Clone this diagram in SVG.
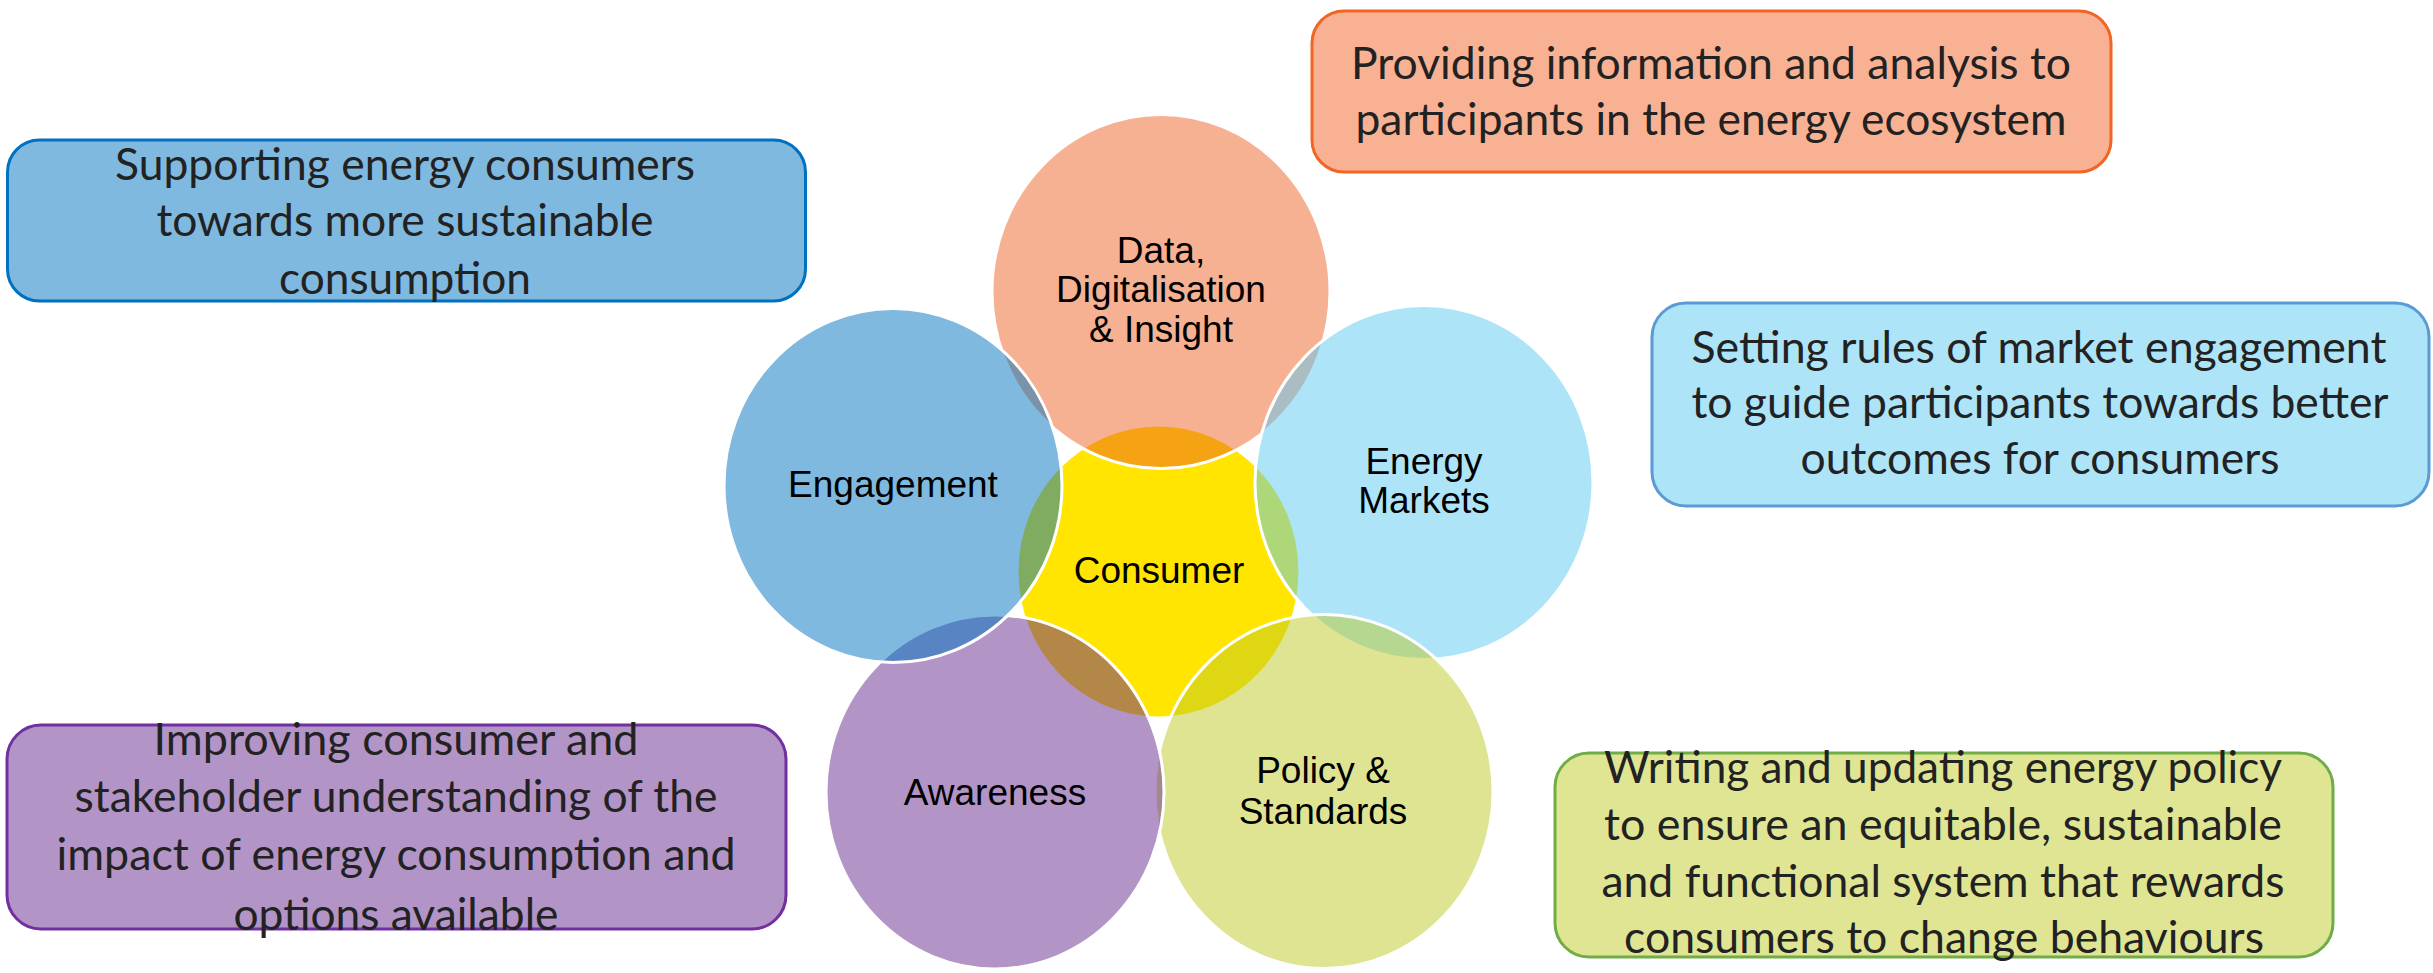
<svg xmlns="http://www.w3.org/2000/svg" width="2433" height="973" viewBox="0 0 2433 973">
<style>
.circ{stroke:#FFFFFF;stroke-width:3;fill-opacity:0.5}
.ctext{font-family:"Liberation Sans",Arial,sans-serif;font-size:37px;fill:#000000;text-anchor:middle}
.box{stroke-width:3}
.btext{font-family:Lato,"Open Sans",sans-serif;font-size:44px;fill:#222222;text-anchor:middle}
</style>
<rect x="0" y="0" width="2433" height="973" fill="#FFFFFF"/>
<g id="node-consumer">
<ellipse cx="1158.5" cy="571.5" rx="140" ry="145" fill="#FFE500"/>
</g>
<g id="node-data">
<ellipse class="circ" cx="1161" cy="291.5" rx="169" ry="177" fill="rgb(237,97,37)"/>
<text class="ctext" x="1161" y="263">Data,</text>
<text class="ctext" x="1161" y="302">Digitalisation</text>
<text class="ctext" x="1161" y="342">&amp; Insight</text>
</g>
<g id="node-energy-markets">
<ellipse class="circ" cx="1424" cy="482.5" rx="169" ry="177" fill="rgb(91,201,241)"/>
<text class="ctext" x="1424" y="474">Energy</text>
<text class="ctext" x="1424" y="513">Markets</text>
</g>
<g id="node-policy">
<ellipse class="circ" cx="1324" cy="791.5" rx="169" ry="177" fill="rgb(191,201,37)"/>
<text class="ctext" x="1323" y="783">Policy &amp;</text>
<text class="ctext" x="1323" y="824">Standards</text>
</g>
<g id="node-awareness">
<ellipse class="circ" cx="995" cy="792" rx="169" ry="177" fill="rgb(103,41,141)"/>
<text class="ctext" x="995" y="805">Awareness</text>
</g>
<g id="node-engagement">
<ellipse class="circ" cx="893" cy="485.5" rx="169" ry="177" fill="rgb(0,115,192)"/>
<text class="ctext" x="893" y="497">Engagement</text>
</g>
<g id="node-consumer-label">
<text class="ctext" x="1159" y="583">Consumer</text>
</g>
<g id="connectors"></g>
<g id="box-engagement">
<rect class="box" x="7.5" y="140" width="798" height="161" rx="32" fill="#7FB9DF" stroke="#0070C0"/>
<text class="btext" x="405" y="180" textLength="580" lengthAdjust="spacingAndGlyphs">Supporting energy consumers</text>
<text class="btext" x="405" y="236" textLength="497" lengthAdjust="spacingAndGlyphs">towards more sustainable</text>
<text class="btext" x="405" y="294" textLength="252" lengthAdjust="spacingAndGlyphs">consumption</text>
</g>
<g id="box-data">
<rect class="box" x="1312" y="11" width="799" height="161" rx="32" fill="#F8B193" stroke="#F26522"/>
<text class="btext" x="1711" y="79" textLength="720" lengthAdjust="spacingAndGlyphs">Providing information and analysis to</text>
<text class="btext" x="1711" y="135" textLength="711" lengthAdjust="spacingAndGlyphs">participants in the energy ecosystem</text>
</g>
<g id="box-energy-markets">
<rect class="box" x="1652" y="303" width="777" height="203" rx="34" fill="#ADE4F8" stroke="#5B9BD5"/>
<text class="btext" x="2039" y="363" textLength="695" lengthAdjust="spacingAndGlyphs">Setting rules of market engagement</text>
<text class="btext" x="2040" y="418" textLength="697" lengthAdjust="spacingAndGlyphs">to guide participants towards better</text>
<text class="btext" x="2040" y="474" textLength="479" lengthAdjust="spacingAndGlyphs">outcomes for consumers</text>
</g>
<g id="box-awareness">
<rect class="box" x="7" y="725" width="779" height="204" rx="34" fill="#B394C6" stroke="#7030A0"/>
<text class="btext" x="396" y="755" textLength="485" lengthAdjust="spacingAndGlyphs">Improving consumer and</text>
<text class="btext" x="396" y="812" textLength="643" lengthAdjust="spacingAndGlyphs">stakeholder understanding of the</text>
<text class="btext" x="396" y="870" textLength="679" lengthAdjust="spacingAndGlyphs">impact of energy consumption and</text>
<text class="btext" x="396" y="930" textLength="325" lengthAdjust="spacingAndGlyphs">options available</text>
</g>
<g id="box-policy">
<rect class="box" x="1555" y="753" width="778" height="204" rx="34" fill="#DFE593" stroke="#70AD47"/>
<text class="btext" x="1943" y="783" textLength="678" lengthAdjust="spacingAndGlyphs">Writing and updating energy policy</text>
<text class="btext" x="1943" y="840" textLength="678" lengthAdjust="spacingAndGlyphs">to ensure an equitable, sustainable</text>
<text class="btext" x="1943" y="897" textLength="683" lengthAdjust="spacingAndGlyphs">and functional system that rewards</text>
<text class="btext" x="1944" y="953" textLength="640" lengthAdjust="spacingAndGlyphs">consumers to change behaviours</text>
</g>
</svg>
